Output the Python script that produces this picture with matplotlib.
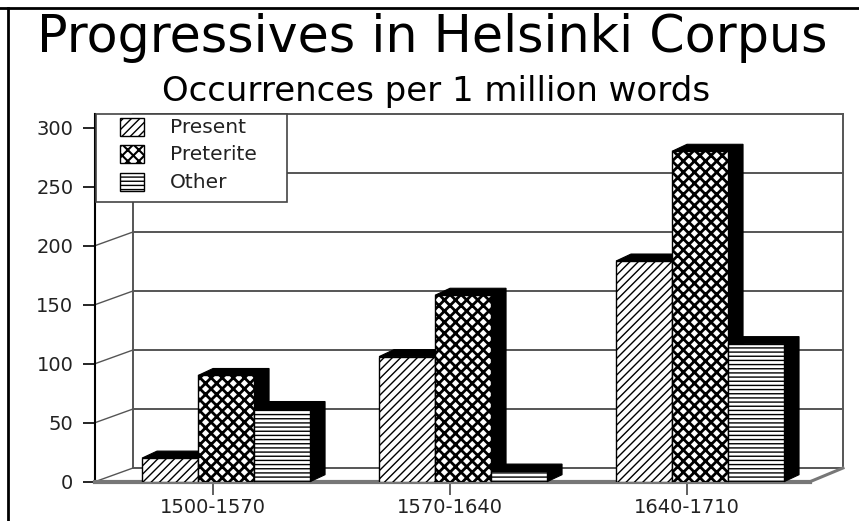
import numpy as np
import matplotlib.pyplot as plt
from matplotlib.patches import Polygon, Rectangle
from matplotlib.lines import Line2D

periods = ['1500-1570', '1570-1640', '1640-1710']
series_names = ['Present', 'Preterite', 'Other']
present = [20, 106, 187]
preterite = [90, 158, 280]
other = [62, 9, 117]
yticks = [0, 50, 100, 150, 200, 250, 300]

hatches = ['////', 'xxx', '----']
W, H = 859, 521

def fx(px):
    return px / W

def fy(py):
    return 1 - py / H

fig = plt.figure(figsize=(W / 100, H / 100), dpi=100)
ax = fig.add_axes([fx(95), fy(481.7), fx(810) - fx(95), fy(114) - fy(481.7)])
ax.set_xlim(-0.498, 2.519)
ax.set_ylim(0, 311.6)

# pixels per data unit, used for the fake 3d offsets
ppx = ax.bbox.width / (2.519 + 0.498)
ppy = ax.bbox.height / 311.6
wall_dx, wall_dy = 38 / ppx, 13.7 / ppy
bar_dx, bar_dy = 15 / ppx, 7 / ppy

x0, x1 = -0.498, (805 - 213) / 237
wall_kw = dict(color='#555555', lw=1.4, clip_on=False, zorder=1)
for t in yticks:
    ax.plot([x0 + wall_dx, x1 + wall_dx], [t + wall_dy, t + wall_dy], **wall_kw)
    ax.plot([x0, x0 + wall_dx], [t, t + wall_dy], color='#555555', lw=1, clip_on=False, zorder=1)
ax.plot([x0 + wall_dx, x0 + wall_dx], [wall_dy, 300 + wall_dy], **wall_kw)
ax.plot([x1 + wall_dx, x1 + wall_dx], [wall_dy, 300 + wall_dy], **wall_kw)
ax.plot([2.519, x1 + wall_dx], [0, wall_dy], color='#777777', lw=2.2, clip_on=False, zorder=1)

x = np.arange(len(periods))
w = 56 / 237
for k, vals in enumerate([present, preterite, other]):
    xs = x + 0.055 + (k - 1) * w
    bars = ax.bar(xs, vals, w, facecolor='white', edgecolor='black', hatch=hatches[k],
                  lw=1, zorder=4 + 2 * k)
    for b in bars:
        if k == 1 and hasattr(b, 'set_hatch_linewidth'):
            b.set_hatch_linewidth(2.0)
        xl, xr, top = b.get_x(), b.get_x() + b.get_width(), b.get_height()
        pts = [(xl, top), (xl + bar_dx, top + bar_dy), (xr + bar_dx, top + bar_dy),
               (xr + bar_dx, bar_dy), (xr, 0), (xr, top)]
        ax.add_patch(Polygon(pts, closed=True, facecolor='black', edgecolor='black',
                             lw=0.8, zorder=3 + 2 * k, clip_on=False))

ax.spines['top'].set_visible(False)
ax.spines['right'].set_visible(False)
ax.spines['left'].set_color('black')
ax.spines['left'].set_linewidth(1.5)
ax.spines['bottom'].set_color('#777777')
ax.spines['bottom'].set_linewidth(3)
ax.set_yticks(yticks)
ax.set_xticks(x)
ax.set_xticklabels(periods)
ax.tick_params(axis='y', length=8.5, width=1.2, pad=7, labelsize=14, color='black',
               labelcolor='#222222')
ax.tick_params(axis='x', length=9, width=1.2, pad=3, labelsize=14, color='#444444',
               labelcolor='#222222')
ax.set_facecolor('none')

# legend box drawn by hand
fig.add_artist(Rectangle((fx(96), fy(202)), fx(287) - fx(96), fy(114) - fy(202),
                         transform=fig.transFigure, facecolor='white', edgecolor='#444444',
                         lw=1.2, zorder=20))
rows = [127, 154, 182]
for k, name in enumerate(series_names):
    p = Rectangle((fx(120), fy(rows[k] + 9)), fx(144) - fx(120), fy(rows[k] - 9) - fy(rows[k] + 9),
                  transform=fig.transFigure, facecolor='white', edgecolor='black',
                  hatch=hatches[k], lw=1, zorder=21)
    if k == 1 and hasattr(p, 'set_hatch_linewidth'):
        p.set_hatch_linewidth(1.5)
    fig.add_artist(p)
    fig.text(fx(170), fy(rows[k] + 1), name, fontsize=14.5, va='center', ha='left',
             color='#222222', zorder=22)

fig.text(fx(432), fy(52), 'Progressives in Helsinki Corpus', fontsize=36.5,
         ha='center', va='baseline')
fig.text(fx(436), fy(101), 'Occurrences per 1 million words', fontsize=24.5,
         ha='center', va='baseline')

fig.add_artist(Line2D([0, 1], [fy(8), fy(8)], transform=fig.transFigure, color='black', lw=2))
fig.add_artist(Line2D([fx(8), fx(8)], [fy(8), 0], transform=fig.transFigure, color='black', lw=2))

fig.savefig('out.png', dpi=100)
